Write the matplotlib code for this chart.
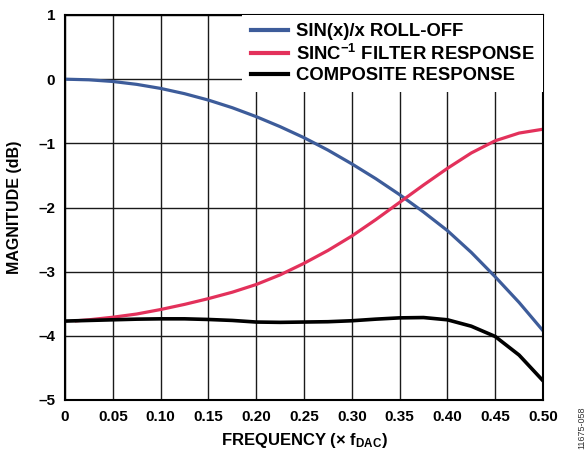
import numpy as np
import matplotlib
matplotlib.use('Agg')
from matplotlib import pyplot as plt

plt.rcParams['font.family'] = ['Liberation Sans', 'DejaVu Sans']
plt.rcParams['font.weight'] = 'bold'
plt.rcParams['mathtext.fontset'] = 'custom'
plt.rcParams['mathtext.rm'] = 'Liberation Sans:bold'
plt.rcParams['mathtext.it'] = 'Liberation Sans:bold'
plt.rcParams['mathtext.bf'] = 'Liberation Sans:bold'
plt.rcParams['mathtext.default'] = 'rm'

# frecuencias (x f_DAC)
freq = [0, 0.025, 0.05, 0.075, 0.10, 0.125, 0.15, 0.175, 0.20, 0.225, 0.25,
        0.275, 0.30, 0.325, 0.35, 0.375, 0.40, 0.425, 0.45, 0.475, 0.50]
sinx = [0, -0.01, -0.036, -0.081, -0.144, -0.226, -0.326, -0.445, -0.584, -0.74, -0.912,
        -1.105, -1.32, -1.55, -1.80, -2.07, -2.36, -2.70, -3.08, -3.48, -3.92]
freq_inv = [0.012, 0.025, 0.05, 0.075, 0.10, 0.125, 0.15, 0.175, 0.20, 0.225, 0.25,
            0.275, 0.30, 0.325, 0.35, 0.375, 0.40, 0.425, 0.45, 0.475, 0.50]
sinc_inv = [-3.765, -3.75, -3.71, -3.66, -3.59, -3.51, -3.42, -3.32, -3.20, -3.05, -2.87,
            -2.67, -2.445, -2.19, -1.92, -1.65, -1.39, -1.15, -0.96, -0.84, -0.78]
composite = [-3.77, -3.76, -3.75, -3.74, -3.735, -3.735, -3.745, -3.76, -3.785, -3.79, -3.785,
             -3.78, -3.765, -3.74, -3.72, -3.715, -3.75, -3.85, -4.01, -4.30, -4.70]

xticks = [0, 0.05, 0.10, 0.15, 0.20, 0.25, 0.30, 0.35, 0.40, 0.45, 0.50]
xlabels = ['0', '0.05', '0.10', '0.15', '0.20', '0.25', '0.30', '0.35', '0.40', '0.45', '0.50']
yticks = [1, 0, -1, -2, -3, -4, -5]
ylabels = ['1', '0', '\u20131', '\u20132', '\u20133', '\u20134', '\u20135']

fig = plt.figure(figsize=(5.87, 4.55), dpi=100)
ax = fig.add_axes([65/587, 55/455, 478/587, 385/455])

ax.plot(freq, sinx, color='#3d5c9a', lw=2.3, label='SIN(x)/x ROLL-OFF')
ax.plot(freq_inv, sinc_inv, color='#e3315b', lw=2.3, label='SINC$^{\u22121}$ FILTER RESPONSE')
ax.plot(freq, composite, color='black', lw=2.6, label='COMPOSITE RESPONSE')

ax.set_xlim(0, 0.5)
ax.set_ylim(-5, 1)
ax.set_xticks(xticks)
ax.set_xticklabels(xlabels)
ax.set_yticks(yticks)
ax.set_yticklabels(ylabels)
ax.tick_params(length=0, labelsize=11, pad=7)
ax.grid(True, color='#1a1a1a', lw=1.0)
ax.set_axisbelow(True)
for s in ax.spines.values():
    s.set_linewidth(1.5)

ax.set_xlabel('FREQUENCY (\u00d7 f$_{DAC}$)', fontsize=12, fontweight='bold', labelpad=5)
ax.set_ylabel('MAGNITUDE (dB)', fontsize=11.5, fontweight='bold', labelpad=12)

leg = ax.legend(loc='upper right', bbox_to_anchor=(1.0, 1.0), frameon=True, fontsize=13.3,
                handlelength=2.0, borderaxespad=0.0, borderpad=0.45, labelspacing=0.18,
                handletextpad=0.45, fancybox=False)
leg.get_frame().set_edgecolor('white')
leg.get_frame().set_facecolor('white')
leg.get_frame().set_alpha(1)
leg.get_frame().set_linewidth(0)
for t in leg.get_texts():
    t.set_fontweight('bold')
for h in leg.get_lines():
    h.set_linewidth(3)

fig.text(582/587, 1 - 428/455, '11675-058', rotation=90, fontsize=6.5, color='#333333',
         fontweight='normal', ha='center', va='center')

fig.savefig('out.png', dpi=100)
